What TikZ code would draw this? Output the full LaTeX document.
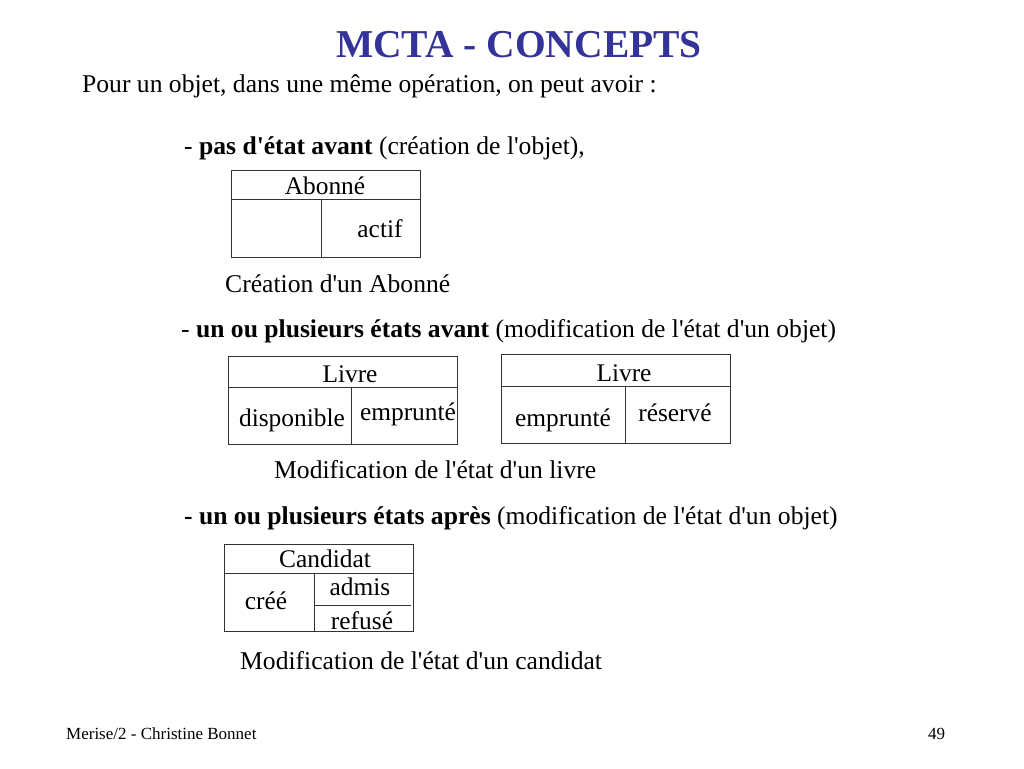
\documentclass[tikz,border=0pt]{standalone}
\usepackage{fontspec}
\setmainfont{Liberation Serif}[Ligatures=TeXOff]
\definecolor{titleblue}{HTML}{333399}
\begin{document}
\begin{tikzpicture}[x=1pt,y=-1pt,
  txt/.style={inner sep=0pt,anchor=base west,font=\fontsize{25.6}{28}\selectfont},
  cell/.style={inner sep=0pt,anchor=base,font=\fontsize{25.4}{28}\selectfont},
  box/.style={draw=black!80,line width=1pt},
  ttl/.style={inner sep=0pt,anchor=base,font=\fontsize{39.5}{44}\selectfont\bfseries,text=titleblue},
  foot/.style={inner sep=0pt,anchor=base west,font=\fontsize{17}{19}\selectfont}]
\useasboundingbox (0,0) rectangle (1024,768);
\fill[white] (0,0) rectangle (1024,768);
\node[ttl] (title) at (519,57) {MCTA - CONCEPTS};
\node[txt] (intro) at (82,92.5) {Pour un objet, dans une même opération, on peut avoir :};
\node[txt] (l1) at (184,154.5) {- \textbf{pas d'état avant} (création de l'objet),};
% Abonne box
\draw[box] (231,170) rectangle (420,257);
\draw[box] (231,199) -- (420,199);
\draw[box] (321,199) -- (321,257);
\node[cell] (abonne) at (325,194.5) {Abonné};
\node[cell] (actif) at (380,237.5) {actif};
\node[txt] (c1) at (225,292.5) {Création d'un Abonné};
\node[txt] (l2) at (181,337.5) {- \textbf{un ou plusieurs états avant} (modification de l'état d'un objet)};
% Livre left
\draw[box] (228,356) rectangle (457,444);
\draw[box] (228,387) -- (458,387);
\draw[box] (351,387) -- (351,444);
\node[cell] (livre1) at (350,382.5) {Livre};
\node[cell] (dispo) at (292,426.5) {disponible};
\node[cell] (empr1) at (408,420.5) {emprunté};
% Livre right
\draw[box] (501,354) rectangle (730,443);
\draw[box] (501,386) -- (731,386);
\draw[box] (625,386) -- (625,443);
\node[cell] (livre2) at (624,381.5) {Livre};
\node[cell] (empr2) at (563,426.5) {emprunté};
\node[cell] (reserve) at (675,421.5) {réservé};
\node[txt] (c2) at (274,478.5) {Modification de l'état d'un livre};
\node[txt] (l3) at (184,524.5) {\textbf{- un ou plusieurs états après} (modification de l'état d'un objet)};
% Candidat
\draw[box] (224,544) rectangle (413,631);
\draw[box] (224,573) -- (413,573);
\draw[box] (314,573) -- (314,631);
\draw[box] (314,605) -- (411,605);
\node[cell] (candidat) at (325,567.5) {Candidat};
\node[cell] (cree) at (266,609.5) {créé};
\node[cell] (admis) at (360,595.5) {admis};
\node[cell] (refuse) at (362,629.5) {refusé};
\node[txt] (c3) at (240,669.5) {Modification de l'état d'un candidat};
\node[foot] (f1) at (66,739) {Merise/2 - Christine Bonnet};
\node[foot] (f2) at (928,739) {49};
\end{tikzpicture}
\end{document}
